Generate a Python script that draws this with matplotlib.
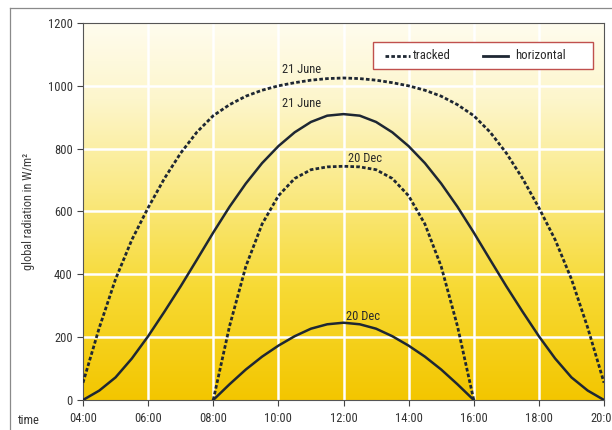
import numpy as np
import matplotlib
matplotlib.use("Agg")
import matplotlib.pyplot as plt
from matplotlib.colors import LinearSegmentedColormap
from matplotlib.lines import Line2D
from matplotlib.patches import Rectangle

# ---- data (half-hour readings) ----
t_june = [4, 4.5, 5, 5.5, 6, 6.5, 7, 7.5, 8, 8.5, 9, 9.5, 10, 10.5, 11, 11.5, 12,
          12.5, 13, 13.5, 14, 14.5, 15, 15.5, 16, 16.5, 17, 17.5, 18, 18.5, 19, 19.5, 20]
tracked_june = [55, 230, 385, 510, 612, 705, 786, 853, 905, 940, 967, 986, 1000, 1010, 1018, 1023, 1025,
                1023, 1018, 1010, 1000, 986, 967, 940, 905, 853, 786, 705, 612, 510, 385, 230, 55]
horizontal_june = [0, 30, 72, 132, 203, 281, 362, 447, 533, 615, 689, 754, 808, 852, 885, 905, 910,
                   905, 885, 852, 808, 754, 689, 615, 533, 447, 362, 281, 203, 132, 72, 30, 0]

t_dec = [8, 8.5, 9, 9.5, 10, 10.5, 11, 11.5, 12, 12.5, 13, 13.5, 14, 14.5, 15, 15.5, 16]
tracked_dec = [0, 235, 425, 560, 650, 705, 733, 742, 744, 742, 733, 705, 650, 560, 425, 235, 0]
horizontal_dec = [0, 50, 97, 138, 173, 203, 227, 241, 246, 241, 227, 203, 173, 138, 97, 50, 0]

xticks = [4, 6, 8, 10, 12, 14, 16, 18, 20]
xticklabels = ["04:00", "06:00", "08:00", "10:00", "12:00", "14:00", "16:00", "18:00", "20:00"]
yticks = [0, 200, 400, 600, 800, 1000, 1200]

labels = [("21 June", 10.72, 1052), ("21 June", 10.72, 943),
          ("20 Dec", 12.65, 768), ("20 Dec", 12.6, 265)]
legend_names = ["tracked", "horizontal"]

plt.rcParams['font.family'] = ['Liberation Sans Narrow', 'DejaVu Sans Condensed',
                               'Roboto Condensed', 'Liberation Sans', 'DejaVu Sans']

fig = plt.figure(figsize=(6.12, 4.30), dpi=100)
W, H = 612, 430
ax = fig.add_axes([83 / W, 30 / H, 521 / W, 377 / H])

# background gradient
cmap = LinearSegmentedColormap.from_list(
    "sun", [(0.0, "#F3C600"), (0.3, "#F7DA35"), (0.55, "#FAE983"), (0.8, "#FDF6CC"), (1.0, "#FFFCEE")])
grad = np.linspace(0, 1, 256).reshape(-1, 1)
ax.imshow(grad, cmap=cmap, origin="lower", aspect="auto",
          extent=[4, 20, 0, 1200], zorder=0)

ax.set_xlim(4, 20)
ax.set_ylim(0, 1200)

# grid
for x in xticks[1:-1]:
    ax.axvline(x, color="white", lw=1.8, zorder=1)
for y in yticks[1:-1]:
    ax.axhline(y, color="white", lw=1.8, zorder=1)

line_col = "#1E2733"
dash = (0, (1.3, 0.8))
ax.plot(t_june, tracked_june, color=line_col, lw=2.0, ls=dash, zorder=3)
ax.plot(t_june, horizontal_june, color=line_col, lw=1.8, zorder=3)
ax.plot(t_dec, tracked_dec, color=line_col, lw=2.0, ls=dash, zorder=3)
ax.plot(t_dec, horizontal_dec, color=line_col, lw=1.8, zorder=3)

for txt, x, y in labels:
    ax.text(x, y, txt, ha="center", va="center", fontsize=9, color="#2A2A2A", zorder=4)

ax.set_xticks(xticks)
ax.set_xticklabels(xticklabels)
ax.set_yticks(yticks)
ax.tick_params(axis="both", labelsize=9, colors="#444444", labelcolor="#333333", length=4, width=0.8)
ax.tick_params(axis="x", pad=5)
for s in ax.spines.values():
    s.set_color("#555555")
    s.set_linewidth(0.8)

ax.set_ylabel("global radiation in W/m²", fontsize=8.8, color="#3A3A3A", labelpad=9)
fig.text(18 / W, 1 - 421 / H, "time", fontsize=9, color="#333333", ha="left", va="center")

# legend box (drawn in axes fraction)
def fx(px):
    return (px - 83) / 521.0

def fy(py):
    return (400 - py) / 377.0

ax.add_patch(Rectangle((fx(373), fy(69)), fx(593) - fx(373), fy(42) - fy(69),
                       transform=ax.transAxes, facecolor="white", edgecolor="#C0504D",
                       lw=1.0, zorder=5))
ax.add_line(Line2D([fx(385), fx(410)], [fy(55.5)] * 2, transform=ax.transAxes,
                   color=line_col, lw=2.0, ls=dash, zorder=6))
ax.text(fx(413), fy(55.5), legend_names[0], transform=ax.transAxes, fontsize=9.2,
        color="#2A2A2A", ha="left", va="center", zorder=6)
ax.add_line(Line2D([fx(483), fx(508)], [fy(55.5)] * 2, transform=ax.transAxes,
                   color=line_col, lw=2.0, zorder=6))
ax.text(fx(515), fy(55.5), legend_names[1], transform=ax.transAxes, fontsize=9.2,
        color="#2A2A2A", ha="left", va="center", zorder=6)

# outer frame
fig.add_artist(Line2D([10 / W, 10 / W], [0, 1 - 8 / H], color="#8A8A8A", lw=0.9, transform=fig.transFigure))
fig.add_artist(Line2D([10 / W, 1], [1 - 8 / H, 1 - 8 / H], color="#8A8A8A", lw=0.9, transform=fig.transFigure))

fig.savefig("out.png", dpi=100)
